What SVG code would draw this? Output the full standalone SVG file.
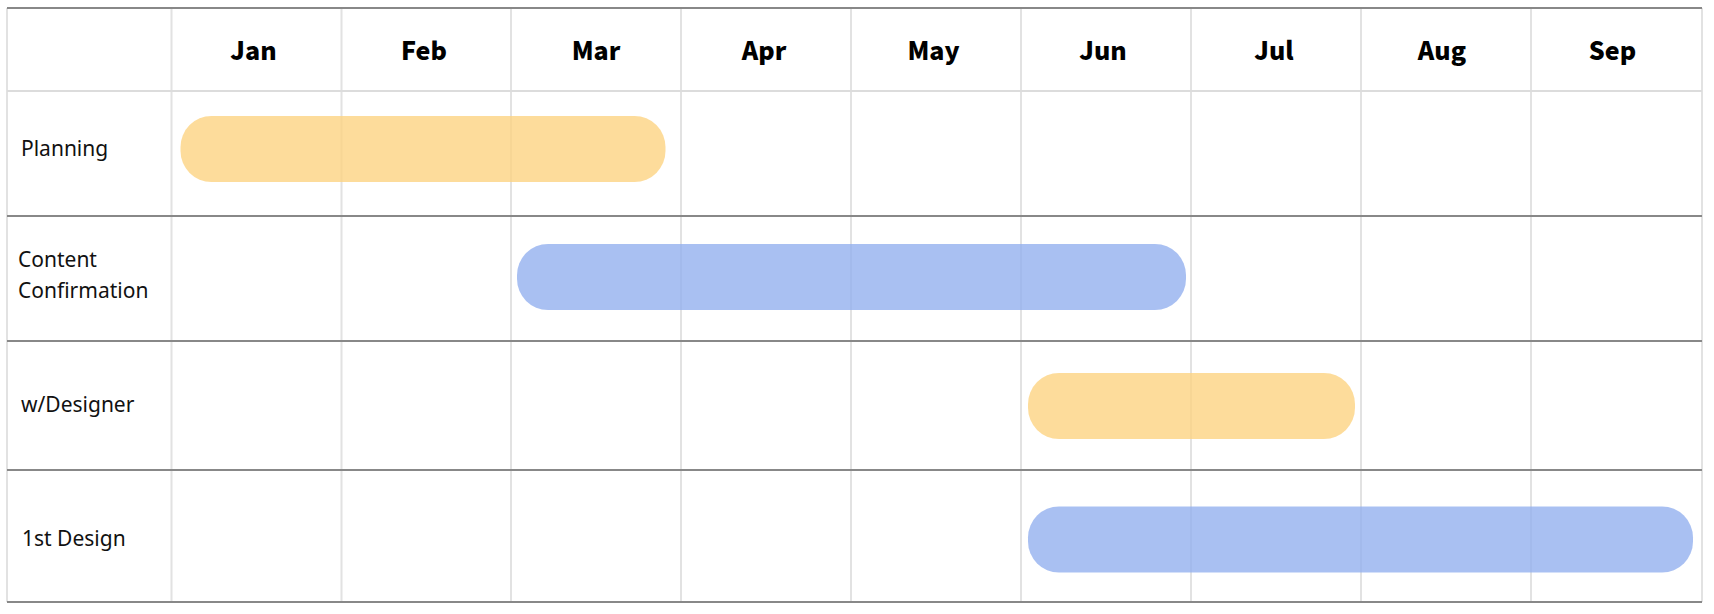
<svg xmlns="http://www.w3.org/2000/svg" width="1714" height="614" viewBox="0 0 1714 614">
<style>
.vl{stroke:#e2e2e2;stroke-width:2}
.hl{stroke:#888;stroke-width:2}
.hh{stroke:#dcdcdc;stroke-width:2}
.mon{font-family:"Noto Sans CJK KR","Noto Sans",sans-serif;font-weight:900;font-size:25px;fill:#000;text-anchor:middle}
.lab{font-family:"Noto Sans","Liberation Sans",sans-serif;font-size:21px;fill:#111}
.y{fill:#FCD382;opacity:0.8}
.b{fill:#93B0EF;opacity:0.8}
</style>
<rect width="1714" height="614" fill="#fff"/>
<g id="grid">
<line class="vl" x1="7" y1="8" x2="7" y2="602"/>
<line class="vl" x1="171.5" y1="8" x2="171.5" y2="602"/>
<line class="vl" x1="341.5" y1="8" x2="341.5" y2="602"/>
<line class="vl" x1="511" y1="8" x2="511" y2="602"/>
<line class="vl" x1="681" y1="8" x2="681" y2="602"/>
<line class="vl" x1="851" y1="8" x2="851" y2="602"/>
<line class="vl" x1="1021" y1="8" x2="1021" y2="602"/>
<line class="vl" x1="1191" y1="8" x2="1191" y2="602"/>
<line class="vl" x1="1361" y1="8" x2="1361" y2="602"/>
<line class="vl" x1="1531" y1="8" x2="1531" y2="602"/>
<line class="vl" x1="1702" y1="8" x2="1702" y2="602"/>
<line class="hh" x1="7" y1="91" x2="1702" y2="91"/>
<line class="hl" x1="7" y1="8" x2="1702" y2="8"/>
<line class="hl" x1="7" y1="216" x2="1702" y2="216"/>
<line class="hl" x1="7" y1="341" x2="1702" y2="341"/>
<line class="hl" x1="7" y1="470" x2="1702" y2="470"/>
<line class="hl" x1="7" y1="602" x2="1702" y2="602"/>
</g>
<g id="header">
<text class="mon" x="253.5" y="60">Jan</text>
<text class="mon" x="424" y="60">Feb</text>
<text class="mon" x="596" y="60">Mar</text>
<text class="mon" x="764" y="60">Apr</text>
<text class="mon" x="933.5" y="60">May</text>
<text class="mon" x="1103" y="60">Jun</text>
<text class="mon" x="1274" y="60">Jul</text>
<text class="mon" x="1442" y="60">Aug</text>
<text class="mon" x="1612.5" y="60">Sep</text>
</g>
<g id="row-planning">
<text class="lab" x="21" y="155.5">Planning</text>
<rect class="y" x="180.5" y="116" width="485" height="66" rx="31"/>
</g>
<g id="row-content">
<text class="lab" x="18" y="267">Content</text>
<text class="lab" x="18" y="297.5">Confirmation</text>
<rect class="b" x="517" y="244" width="669" height="66" rx="31"/>
</g>
<g id="row-designer">
<text class="lab" x="21" y="411.5">w/Designer</text>
<rect class="y" x="1028" y="373" width="327" height="66" rx="31"/>
</g>
<g id="row-design">
<text class="lab" x="22" y="546">1st Design</text>
<rect class="b" x="1028" y="506.5" width="665" height="66" rx="31"/>
</g>
</svg>
